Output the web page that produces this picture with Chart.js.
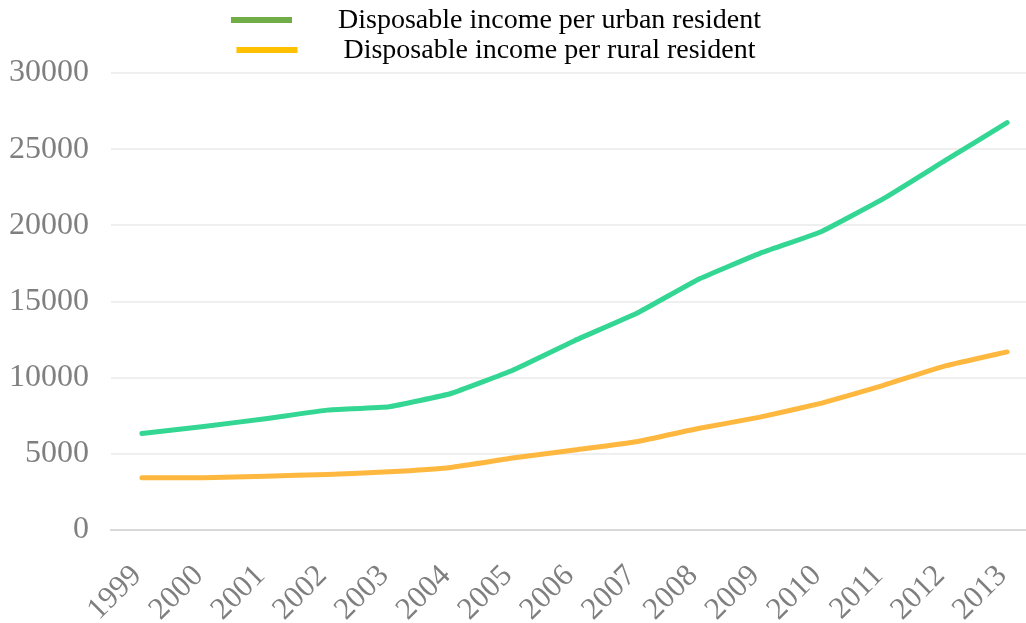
<!DOCTYPE html>
<html>
<head>
<meta charset="utf-8">
<script src="https://cdn.jsdelivr.net/npm/chart.js@4"></script>
<style>
  html, body { margin: 0; padding: 0; background: #fff; overflow: hidden; }
  #wrap { width: 1040px; height: 623px; }
</style>
</head>
<body>
<div id="wrap"><canvas id="chart-income" width="1040" height="623"></canvas></div>
<script>
var years = ["1999", "2000", "2001", "2002", "2003", "2004", "2005", "2006", "2007", "2008", "2009", "2010", "2011", "2012", "2013"];
var urbanIncome = [6340, 6800, 7300, 7870, 8090, 8960, 10490, 12430, 14210, 16450, 18160, 19600, 21750, 24260, 26740];
var ruralIncome = [3430, 3430, 3530, 3650, 3820, 4110, 4720, 5250, 5790, 6660, 7410, 8330, 9500, 10770, 11690];
var seriesNames = ["Disposable income per urban resident", "Disposable income per rural resident"];
var lineColors = ["#33D793", "#FFB83F"];
var legendColors = ["#70AD47", "#FFC000"];

var serif = "'Liberation Serif', 'Times New Roman', serif";

// legend drawn by hand: two rows, swatch colours differ from line colours
var twoRowLegend = {
  id: "twoRowLegend",
  afterDraw: function(chart) {
    var ctx = chart.ctx;
    ctx.save();
    ctx.font = "28px " + serif;
    ctx.textBaseline = "middle";
    var rows = [20, 50];
    for (var i = 0; i < seriesNames.length; i++) {
      var tw = ctx.measureText(seriesNames[i]).width;
      var total = 61 + 46 + tw;
      var x0 = 496 - total / 2;
      ctx.fillStyle = legendColors[i];
      ctx.fillRect(x0, rows[i] - 3, 61, 6);
      ctx.fillStyle = "#000";
      ctx.fillText(seriesNames[i], x0 + 61 + 46, rows[i] + 1);
    }
    ctx.restore();
  }
};

new Chart("chart-income", {
  type: "line",
  data: {
    labels: years,
    datasets: [{
      label: seriesNames[0],
      data: urbanIncome,
      borderColor: lineColors[0],
      backgroundColor: lineColors[0],
      borderWidth: 5,
      pointRadius: 0,
      tension: 0.1,
      borderCapStyle: "round",
      borderJoinStyle: "round"
    }, {
      label: seriesNames[1],
      data: ruralIncome,
      borderColor: lineColors[1],
      backgroundColor: lineColors[1],
      borderWidth: 5,
      pointRadius: 0,
      tension: 0.1,
      borderCapStyle: "round",
      borderJoinStyle: "round"
    }]
  },
  options: {
    responsive: false,
    animation: false,
    layout: { padding: { top: 73, left: 9, right: 2, bottom: 0 } },
    plugins: {
      legend: { display: false },
      tooltip: { enabled: false }
    },
    scales: {
      x: {
        offset: true,
        grid: { display: false, drawTicks: false },
        border: { color: "#D9D9D9", width: 2 },
        ticks: {
          color: "#7F7F7F",
          font: { family: serif, size: 31 },
          minRotation: 45,
          maxRotation: 45,
          autoSkip: false,
          padding: 28,
          labelOffset: -5
        },
        afterFit: function(s) { s.height = 93; s.paddingLeft = 0; s.paddingRight = 0; }
      },
      y: {
        min: 0,
        max: 30000,
        grid: { color: "#EFEFEF", lineWidth: 2, drawTicks: false },
        border: { display: false },
        ticks: {
          stepSize: 5000,
          color: "#7F7F7F",
          font: { family: serif, size: 32 },
          padding: 22,
          callback: function(v) { return String(v); }
        },
        afterFit: function(s) { s.width = 102; }
      }
    }
  },
  plugins: [twoRowLegend]
});
</script>
</body>
</html>
